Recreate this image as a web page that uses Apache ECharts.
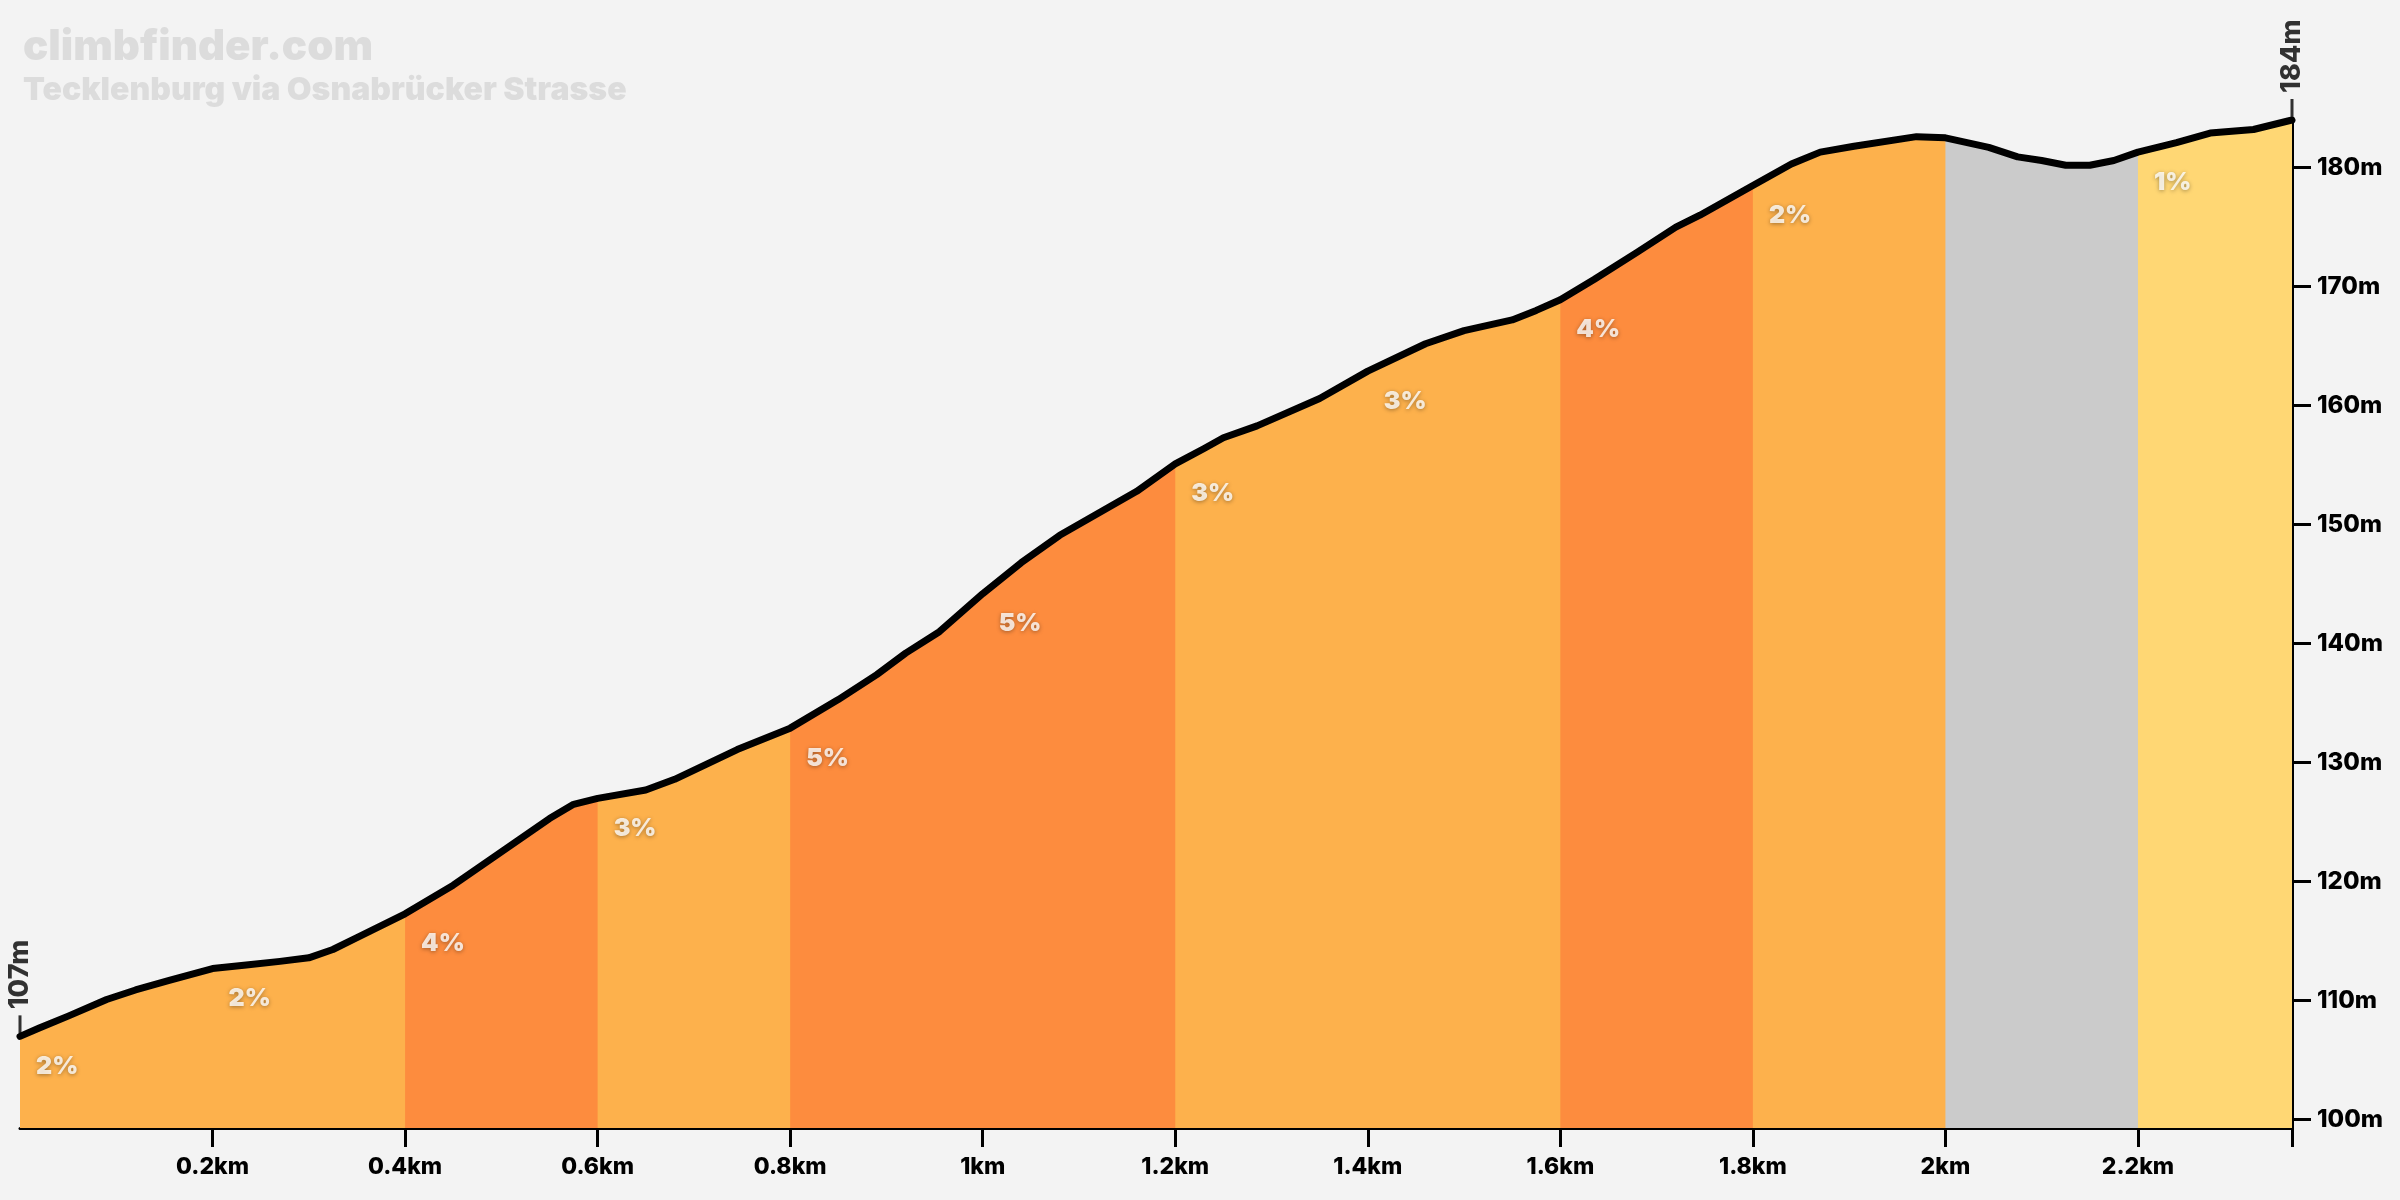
<!DOCTYPE html>
<html>
<head>
<meta charset="utf-8">
<title>Tecklenburg via Osnabrücker Strasse</title>
<script src="https://cdn.jsdelivr.net/npm/echarts@6.0.0/dist/echarts.min.js"></script>
<style>
  html, body { margin: 0; padding: 0; background: #f3f3f3; }
  #chart { width: 2400px; height: 1200px; }
</style>
</head>
<body>
<div id="chart"></div>
<script>
// elevation profile (km, m)
const distanceKm = [
  0, 0.02, 0.05, 0.09, 0.12, 0.155, 0.2, 0.235, 0.27, 0.3, 0.325, 0.35,
  0.4, 0.45, 0.5, 0.55, 0.575, 0.6, 0.65, 0.68, 0.745,
  0.8, 0.85, 0.89, 0.92, 0.955, 1.0, 1.04, 1.08, 1.11, 1.16,
  1.2, 1.23, 1.25, 1.285, 1.35, 1.4, 1.46, 1.5, 1.55, 1.575,
  1.6, 1.635, 1.68, 1.72, 1.745, 1.8, 1.84, 1.87, 1.905, 1.97,
  2.0, 2.045, 2.075, 2.1, 2.125, 2.15, 2.175, 2.2, 2.24, 2.275, 2.32, 2.36
];
const elevationM = [
  107, 107.7, 108.7, 110.1, 110.9, 111.7, 112.7, 113.0, 113.3, 113.6, 114.3, 115.3,
  117.3, 119.7, 122.5, 125.3, 126.5, 127.0, 127.7, 128.6, 131.1,
  132.9, 135.3, 137.4, 139.2, 141.0, 144.2, 146.8, 149.1, 150.5, 152.8,
  155.1, 156.4, 157.3, 158.3, 160.6, 162.9, 165.2, 166.3, 167.2, 168.0,
  168.9, 170.6, 172.9, 175.0, 176.0, 178.5, 180.3, 181.3, 181.8, 182.6,
  182.5, 181.7, 180.9, 180.6, 180.2, 180.2, 180.6, 181.3, 182.1, 182.9, 183.2, 184
];

// gradient segments
const segmentBreaksKm = [0, 0.2, 0.4, 0.6, 0.8, 1.0, 1.2, 1.4, 1.6, 1.8, 2.0, 2.2, 2.36];
const segmentGrades = [2, 2, 4, 3, 5, 5, 3, 3, 4, 2, null, 1];

// axis ticks
const xTickKm = [0.2, 0.4, 0.6, 0.8, 1.0, 1.2, 1.4, 1.6, 1.8, 2.0, 2.2];
const yTickM = [100, 110, 120, 130, 140, 150, 160, 170, 180];

const titleText = 'climbfinder.com';
const subtitleText = 'Tecklenburg via Osnabrücker Strasse';

function gradeColor(g) {
  if (g === null) return '#cbcbcb';
  if (g <= 1) return '#ffd774';
  if (g <= 3) return '#fdb14c';
  return '#fd8c3e';
}

const points = distanceKm.map((d, i) => [d, elevationM[i]]);
const eps = 1e-9;

function elevAt(km) {
  const i = distanceKm.findIndex(d => Math.abs(d - km) < eps);
  return elevationM[i];
}

// each colour band is drawn from its start to the end of the climb, the next
// band is painted over it, so no background shows through at the joins
const segmentSeries = [];
segmentGrades.forEach((g, i) => {
  if (i > 0 && gradeColor(segmentGrades[i - 1]) === gradeColor(g)) return;
  const a = segmentBreaksKm[i];
  segmentSeries.push({
    type: 'line',
    data: points.filter(p => p[0] >= a - eps),
    symbol: 'none',
    silent: true,
    z: 1,
    lineStyle: { width: 0 },
    areaStyle: { color: gradeColor(g), opacity: 1, origin: 'start' }
  });
});

const gradeLabels = [];
segmentGrades.forEach((g, i) => {
  if (g === null) return;
  const km = segmentBreaksKm[i];
  gradeLabels.push({ value: [km, elevAt(km)], grade: g });
});

const lastKm = distanceKm[distanceKm.length - 1];
const endPoints = [[distanceKm[0], elevationM[0]], [lastKm, elevationM[elevationM.length - 1]]];

const chart = echarts.init(document.getElementById('chart'), null, { renderer: 'canvas' });

const font = 'Inter';

chart.setOption({
  backgroundColor: '#f3f3f3',
  animation: false,
  title: {
    text: titleText,
    subtext: subtitleText,
    left: 18,
    top: 21,
    itemGap: 6,
    textStyle: { color: '#dcdcdc', fontFamily: font, fontWeight: 900, fontSize: 42 },
    subtextStyle: { color: '#dcdcdc', fontFamily: font, fontWeight: 900, fontSize: 32 }
  },
  grid: { left: 20, right: 108, top: 120, bottom: 72 },
  xAxis: {
    type: 'value',
    min: 0,
    max: lastKm,
    axisLine: { show: true, onZero: false, lineStyle: { color: '#000', width: 3 } },
    axisTick: {
      show: true,
      customValues: xTickKm.concat([lastKm]),
      length: 19,
      lineStyle: { color: '#000', width: 3 }
    },
    axisLabel: {
      customValues: xTickKm,
      formatter: v => v + 'km',
      color: '#000',
      fontFamily: font,
      fontWeight: 800,
      fontSize: 23,
      margin: 28
    },
    splitLine: { show: false }
  },
  yAxis: {
    type: 'value',
    position: 'right',
    min: 99.3,
    max: 184,
    axisLine: { show: true, onZero: false, lineStyle: { color: '#000', width: 3 } },
    axisTick: {
      show: true,
      customValues: yTickM,
      length: 19,
      lineStyle: { color: '#000', width: 3 }
    },
    axisLabel: {
      customValues: yTickM,
      formatter: v => v + 'm',
      color: '#000',
      fontFamily: font,
      fontWeight: 800,
      fontSize: 24,
      margin: 25
    },
    splitLine: { show: false }
  },
  series: segmentSeries.concat([
    {
      type: 'line',
      name: 'profile',
      data: points,
      symbol: 'none',
      silent: true,
      z: 3,
      lineStyle: { color: '#000', width: 7, join: 'round', cap: 'round' }
    },
    {
      type: 'scatter',
      name: 'grades',
      data: gradeLabels,
      symbolSize: 0,
      silent: true,
      z: 4,
      label: {
        show: true,
        position: 'right',
        distance: 16,
        offset: [0, 30],
        align: 'left',
        verticalAlign: 'middle',
        formatter: p => p.data.grade + '%',
        color: '#fff',
        fontFamily: font,
        fontWeight: 900,
        fontSize: 25,
        textShadowColor: 'rgba(0,0,0,0.45)',
        textShadowBlur: 4,
        textShadowOffsetY: 1
      }
    },
    {
      type: 'scatter',
      name: 'ends',
      data: endPoints,
      symbol: 'rect',
      symbolSize: [3, 18],
      symbolOffset: [0, -12],
      itemStyle: { color: '#000' },
      silent: true,
      z: 4,
      label: {
        show: true,
        position: 'top',
        distance: 6,
        rotate: 90,
        align: 'left',
        verticalAlign: 'middle',
        formatter: p => p.value[1] + 'm',
        color: '#000',
        fontFamily: font,
        fontWeight: 800,
        fontSize: 27
      }
    }
  ])
});
</script>
</body>
</html>
